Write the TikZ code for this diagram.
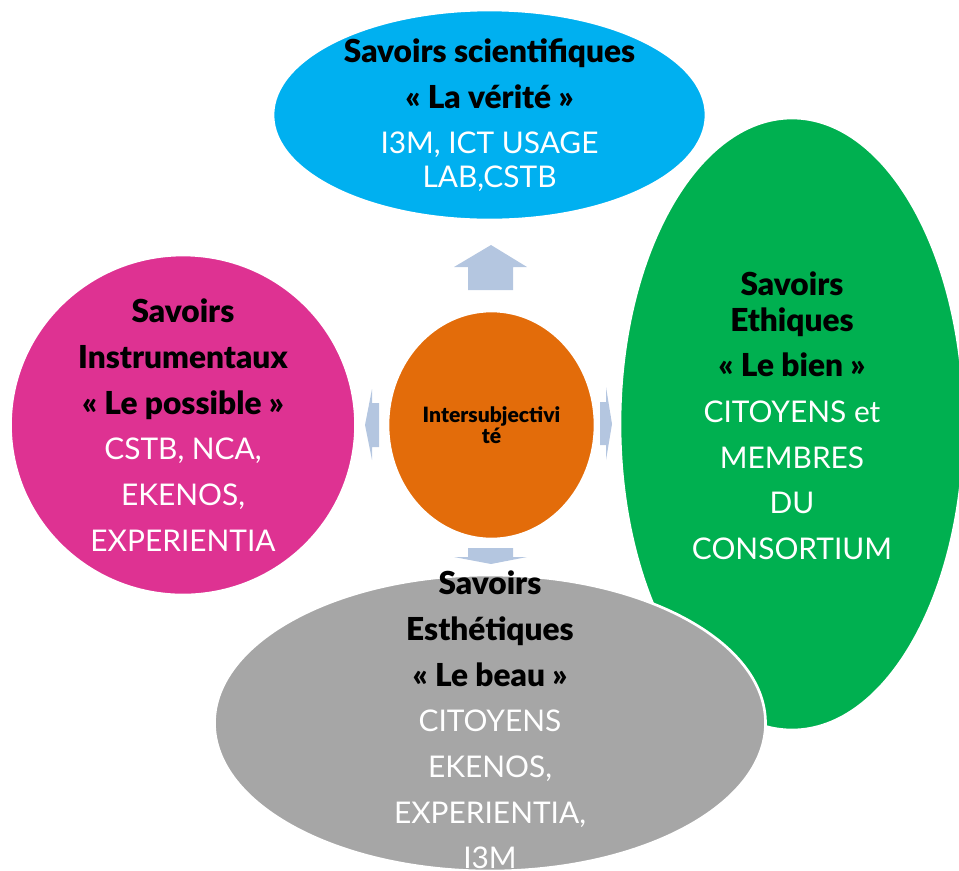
\documentclass[tikz,border=0pt]{standalone}
\usepackage{fontspec}
\setmainfont{Lato}[BoldFont={Lato Black}]
\usetikzlibrary{shapes.geometric}

\definecolor{sciblue}{RGB}{0,176,240}
\definecolor{ethgreen}{RGB}{0,176,80}
\definecolor{instpink}{RGB}{222,50,146}
\definecolor{esthgray}{RGB}{166,166,166}
\definecolor{interorange}{RGB}{227,108,10}
\definecolor{arrowblue}{RGB}{180,198,224}

\def\px{0.02cm}
\newcommand{\savoir}[1]{\textbf{\fontsize{18}{26}\selectfont #1}}
\newcommand{\acteurs}[1]{{\color{white}#1}}

\begin{document}
\begin{tikzpicture}[x=0.02cm,y=-0.02cm,
  bulle/.style={ellipse,draw=white,line width=1.5pt,inner sep=0pt},
  texte/.style={align=center,inner sep=0pt,font=\fontsize{17}{26}\selectfont},
  fleche/.style={fill=arrowblue}
  ]
  \useasboundingbox (0,0) rectangle (959,870);

  % les quatre savoirs
  \node[bulle,fill=ethgreen,minimum width=344*\px,minimum height=612*\px] (ethique) at (792,424) {};
  \node[bulle,fill=sciblue,minimum width=433*\px,minimum height=210*\px] (science) at (489.5,115) {};
  \node[bulle,fill=esthgray,minimum width=551*\px,minimum height=296*\px] (esthetique) at (490,723) {};
  \node[bulle,fill=instpink,minimum width=345*\px,minimum height=340*\px] (instrument) at (183,425) {};

  % fleches vers l'exterieur
  \fill[fleche] (491,245) -- (527,267) -- (513,267) -- (513,290) -- (468,290) -- (468,267) -- (454,267) -- cycle;
  \fill[fleche] (468,548) -- (513,548) -- (513,557) -- (527,557) -- (491,564) -- (454,557) -- (468,557) -- cycle;
  \fill[fleche] (365,425) -- (372,389) -- (372,403) -- (379,403) -- (379,447) -- (372,447) -- (372,460) -- cycle;
  \fill[fleche] (612,424) -- (606,387) -- (606,402) -- (600,402) -- (600,445) -- (606,445) -- (606,460) -- cycle;

  % le centre
  \node[bulle,fill=interorange,minimum width=207*\px,minimum height=228*\px] (inter) at (491.5,425) {};
  \node[texte,font=\fontsize{12}{12}\selectfont\bfseries] (interT) at (inter) {Intersubjectivi\\té};

  % les textes
  \node[texte] (scienceT) at (science) {\savoir{Savoirs scientifiques}\\
    \savoir{« La vérité »}\\
    \acteurs{I3M, ICT USAGE}\\[-7pt]
    \acteurs{LAB,CSTB}};
  \node[texte] (instrumentT) at (instrument) {\savoir{Savoirs}\\
    \savoir{Instrumentaux}\\
    \savoir{« Le possible »}\\
    \acteurs{CSTB, NCA,}\\
    \acteurs{EKENOS,}\\
    \acteurs{EXPERIENTIA}};
  \node[texte] (ethiqueT) at (792,416) {\savoir{Savoirs}\\[-6pt]
    \savoir{Ethiques}\\
    \savoir{« Le bien »}\\
    \acteurs{CITOYENS et}\\
    \acteurs{MEMBRES}\\
    \acteurs{DU}\\
    \acteurs{CONSORTIUM}};
  \node[texte] (esthetiqueT) at (490,720) {\savoir{Savoirs}\\
    \savoir{Esthétiques}\\
    \savoir{« Le beau »}\\
    \acteurs{CITOYENS}\\
    \acteurs{EKENOS,}\\
    \acteurs{EXPERIENTIA,}\\
    \acteurs{I3M}};
\end{tikzpicture}
\end{document}
